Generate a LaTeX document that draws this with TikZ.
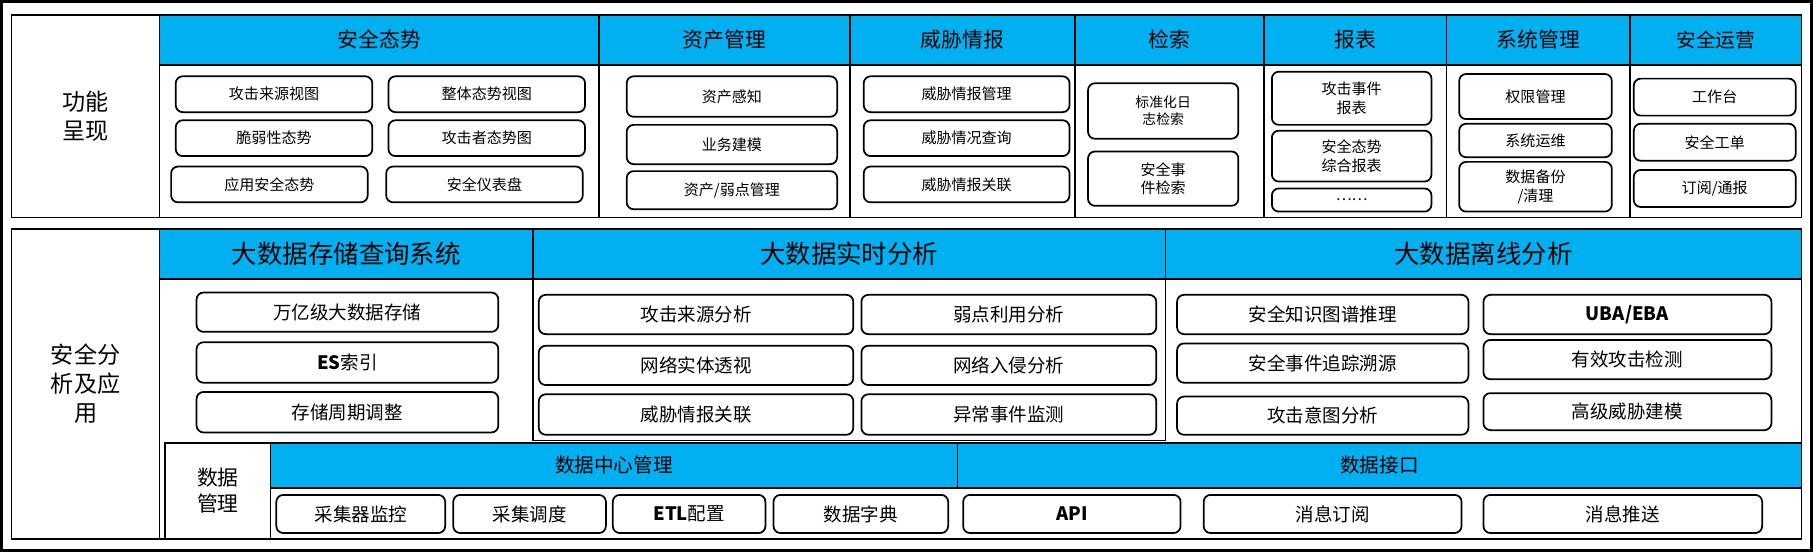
\documentclass[tikz,border=0pt]{standalone}
\usepackage{fontspec}
\setmainfont{Noto Sans CJK SC}
\definecolor{hblue}{HTML}{00B0F0}
\newcommand\fs[1]{\fontsize{#1pt}{1.25\dimexpr #1pt\relax}\selectfont}
\newcommand\bx[7][13]{\node[bx,font=\fs{#1},minimum width={(#5-#3)*1pt},minimum height={(#6-#4)*1pt}] (#2) at ({(#3+#5)/2},{(#4+#6)/2}) {#7};}
\newcommand\hd[7][18]{\node[hd,font=\fs{#1},minimum width={(#5-#3)*1pt},minimum height={(#6-#4)*1pt}] (#2) at ({(#3+#5)/2},{(#4+#6)/2}) {#7};}
\newcommand\pn[7][18]{\node[pn,font=\fs{#1},minimum width={(#5-#3)*1pt},minimum height={(#6-#4)*1pt}] (#2) at ({(#3+#5)/2},{(#4+#6)/2}) {#7};}
\begin{document}
\begin{tikzpicture}[x=1pt,y=-1pt,
 bx/.style={draw,line width=1.5pt,rounded corners=6pt,inner sep=0pt,align=center},
 hd/.style={draw,line width=1.5pt,fill=hblue,inner sep=0pt,align=center},
 pn/.style={draw,line width=1.5pt,inner sep=0pt,align=center}]
\useasboundingbox (0,0) rectangle (1568,477);
\draw[line width=2.5pt] (1.25,1.25) rectangle (1566.75,475.75);
% top panel
\pn[20]{topL}{10}{13}{138}{188}{功能\\呈现}
\pn{tc1}{138}{56}{518}{188}{}
\pn{tc2}{518}{56}{735}{188}{}
\pn{tc3}{735}{56}{930}{188}{}
\pn{tc4}{930}{56}{1093}{188}{}
\pn{tc5}{1093}{56}{1251}{188}{}
\pn{tc6}{1251}{56}{1410}{188}{}
\pn{tc7}{1410}{56}{1558}{188}{}
\hd{h1}{138}{13}{518}{56}{安全态势}
\hd{h2}{518}{13}{735}{56}{资产管理}
\hd{h3}{735}{13}{930}{56}{威胁情报}
\hd{h4}{930}{13}{1093}{56}{检索}
\hd{h5}{1093}{13}{1251}{56}{报表}
\hd{h6}{1251}{13}{1410}{56}{系统管理}
\hd[17]{h7}{1410}{13}{1558}{56}{安全运营}
\bx{a1}{152}{66}{322}{97}{攻击来源视图}
\bx{a2}{336}{66}{506}{97}{整体态势视图}
\bx{a3}{152}{104}{322}{135}{脆弱性态势}
\bx{a4}{336}{104}{506}{135}{攻击者态势图}
\bx{a5}{148}{144}{318}{175}{应用安全态势}
\bx{a6}{334}{144}{504}{175}{安全仪表盘}
\bx{b1}{542}{66}{724}{101}{资产感知}
\bx{b2}{542}{108}{724}{142}{业务建模}
\bx{b3}{542}{148}{724}{181}{资产/弱点管理}
\bx{c1}{747}{66}{925}{97}{威胁情报管理}
\bx{c2}{747}{104}{925}{135}{威胁情况查询}
\bx{c3}{747}{144}{925}{175}{威胁情报关联}
\bx[12]{d1}{941}{72}{1071}{120}{标准化日\\志检索}
\bx{d2}{941}{131}{1071}{178}{安全事\\件检索}
\bx{e1}{1100}{62}{1238}{108}{攻击事件\\报表}
\bx{e2}{1100}{113}{1238}{157}{安全态势\\综合报表}
\bx{e3}{1100}{163}{1238}{183}{……}
\bx{f1}{1262}{64}{1394}{103}{权限管理}
\bx{f2}{1262}{107}{1394}{136}{系统运维}
\bx{f3}{1262}{140}{1394}{183}{数据备份\\/清理}
\bx{g1}{1413}{68}{1553}{100}{工作台}
\bx{g2}{1413}{107}{1553}{139}{安全工单}
\bx{g3}{1413}{147}{1553}{179}{订阅/通报}
% bottom panel
\pn[20]{botL}{10}{198}{138}{466}{安全分\\析及应\\用}
\pn{bc}{138}{241}{1558}{466}{}
\pn{rt}{461}{241}{1008}{381}{}
\hd[22]{H1}{138}{198}{461}{241}{大数据存储查询系统}
\hd[22]{H2}{461}{198}{1008}{241}{大数据实时分析}
\hd[22]{H3}{1008}{198}{1558}{241}{大数据离线分析}
\bx[16]{s1}{170}{253}{431}{287}{万亿级大数据存储}
\bx[16]{s2}{170}{296}{431}{331}{\textbf{ES}索引}
\bx[16]{s3}{170}{339}{431}{374}{存储周期调整}
\bx[16]{r1}{466}{255}{738}{289}{攻击来源分析}
\bx[16]{r2}{745}{255}{1000}{289}{弱点利用分析}
\bx[16]{r3}{466}{299}{738}{333}{网络实体透视}
\bx[16]{r4}{745}{299}{1000}{333}{网络入侵分析}
\bx[16]{r5}{466}{341}{738}{376}{威胁情报关联}
\bx[16]{r6}{745}{341}{1000}{376}{异常事件监测}
\bx[16]{o1}{1018}{255}{1270}{289}{安全知识图谱推理}
\bx[16]{o2}{1283}{255}{1532}{289}{\textbf{UBA/EBA}}
\bx[16]{o3}{1018}{297}{1270}{331}{安全事件追踪溯源}
\bx[16]{o4}{1283}{294}{1532}{328}{有效攻击检测}
\bx[16]{o5}{1018}{343}{1270}{376}{攻击意图分析}
\bx[16]{o6}{1283}{340}{1532}{372}{高级威胁建模}
% data management
\pn[18]{dmL}{143}{383}{234}{466}{数据\\管理}
\pn{dmc}{234}{422}{1558}{466}{}
\hd[17]{D1}{234}{383}{828}{422}{数据中心管理}
\hd[17]{D2}{828}{383}{1558}{422}{数据接口}
\bx[16]{m1}{239}{428}{385}{461}{采集器监控}
\bx[16]{m2}{392}{428}{524}{461}{采集调度}
\bx[16]{m3}{530}{428}{662}{461}{\textbf{ETL}配置}
\bx[16]{m4}{669}{428}{820}{461}{数据字典}
\bx[16]{i1}{833}{428}{1021}{461}{\textbf{API}}
\bx[16]{i2}{1041}{428}{1264}{461}{消息订阅}
\bx[16]{i3}{1283}{428}{1524}{461}{消息推送}
\end{tikzpicture}
\end{document}
